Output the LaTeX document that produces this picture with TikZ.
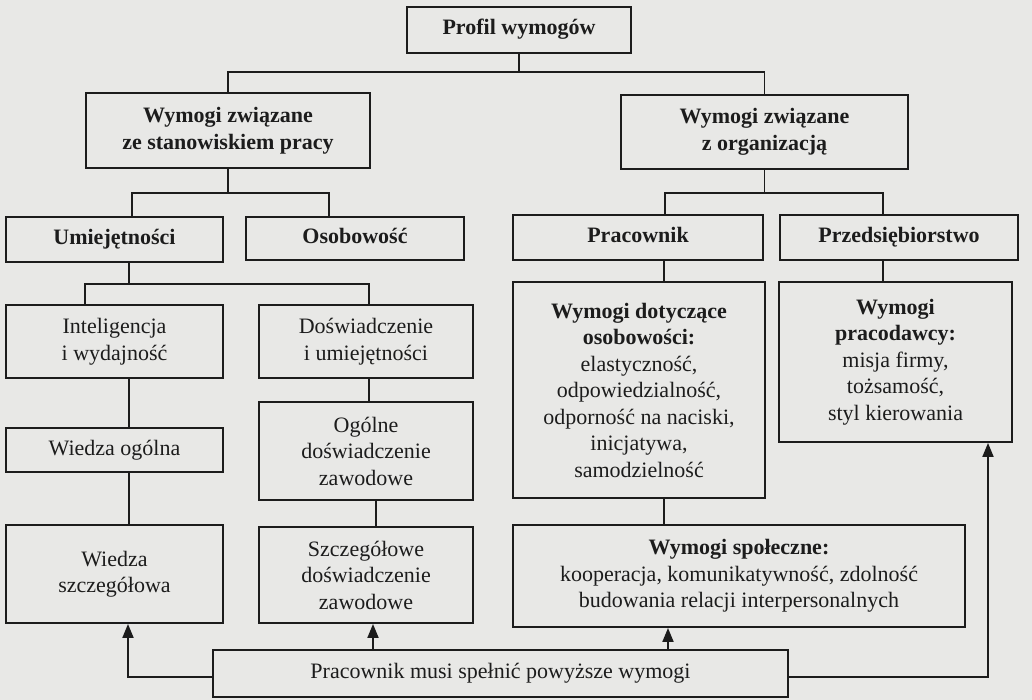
\documentclass[tikz,border=0pt]{standalone}
\usepackage{fontspec}
\setmainfont{Liberation Serif}
\usetikzlibrary{arrows.meta}
\definecolor{paper}{RGB}{232,232,230}
\definecolor{ink}{RGB}{28,28,28}

\begin{document}
\begin{tikzpicture}[x=1pt,y=-1pt,
  box/.style={draw=ink,line width=1.9pt,align=center,inner sep=0pt,text=ink,font=\fontsize{22}{26.5}\selectfont},
  head/.style={box,font=\fontsize{22}{26.5}\selectfont\bfseries},
  oneline/.style={text height=15pt,text depth=5pt},
  tie/.style={draw=ink,line width=1.9pt},
  flow/.style={tie,-{Triangle[length=14pt,width=11pt]}}
]
  \fill[paper] (0,0) rectangle (1032,700);
  \useasboundingbox (0,0) rectangle (1032,700);

  % top levels
  \node[head,oneline,minimum width=224pt,minimum height=46pt] (prof) at (519,30) {Profil wymogów};
  \node[head,minimum width=284pt,minimum height=75pt] (stan) at (228,130.5) {Wymogi związane\\ze stanowiskiem pracy};
  \node[head,minimum width=287pt,minimum height=74pt] (org) at (764.5,132) {Wymogi związane\\z organizacją};

  \node[head,oneline,minimum width=217pt,minimum height=45pt] (umie) at (114.5,239.5) {Umiejętności};
  \node[head,oneline,minimum width=218pt,minimum height=43pt] (osob) at (355,238.5) {Osobowość};
  \node[head,oneline,minimum width=250pt,minimum height=45pt] (prac) at (638,237.5) {Pracownik};
  \node[head,oneline,minimum width=238pt,minimum height=45pt] (przed) at (899,237.5) {Przedsiębiorstwo};

  % left branch
  \node[box,minimum width=217pt,minimum height=73pt] (intel) at (114.5,341.5) {Inteligencja\\i wydajność};
  \node[box,minimum width=214pt,minimum height=73pt] (dosw) at (366,341.5) {Doświadczenie\\i umiejętności};
  \node[box,oneline,minimum width=217pt,minimum height=44pt] (wog) at (114.5,450) {Wiedza ogólna};
  \node[box,minimum width=214pt,minimum height=98pt] (ogol) at (366,451) {Ogólne\\doświadczenie\\zawodowe};
  \node[box,minimum width=217pt,minimum height=98pt] (wsz) at (114.5,574) {Wiedza\\szczegółowa};
  \node[box,minimum width=214pt,minimum height=96pt] (szcz) at (366,575) {Szczegółowe\\doświadczenie\\zawodowe};

  % right branch
  \node[box,minimum width=252pt,minimum height=216pt] (wdot) at (639,390)
    {\textbf{Wymogi dotyczące}\\\textbf{osobowości:}\\elastyczność,\\odpowiedzialność,\\odporność na naciski,\\inicjatywa,\\samodzielność};
  \node[box,minimum width=233pt,minimum height=160pt] (wprac) at (895.5,362)
    {\textbf{Wymogi}\\\textbf{pracodawcy:}\\misja firmy,\\tożsamość,\\styl kierowania};
  \node[box,minimum width=452pt,minimum height=102pt] (wspol) at (739,576)
    {\textbf{Wymogi społeczne:}\\kooperacja, komunikatywność, zdolność\\budowania relacji interpersonalnych};

  \node[box,oneline,minimum width=575pt,minimum height=47pt] (must) at (500.5,673.5) {Pracownik musi spełnić powyższe wymogi};

  % tree lines
  \draw[tie] (prof.south) -- ++(0,18) coordinate (pj);
  \draw[tie] (stan.north) |- (pj) -| (org.north);
  \draw[tie] (stan.south) -- ++(0,24) coordinate (sj);
  \draw[tie] ([xshift=17.5pt]umie.north) |- (sj) -| ([xshift=-26pt]osob.north);
  \draw[tie] (org.south) -- ++(0,23) coordinate (oj);
  \draw[tie] ([xshift=27pt]prac.north) |- (oj) -| ([xshift=-16pt]przed.north);

  \draw[tie] ([xshift=14.5pt]umie.south) -- ++(0,21) coordinate (uj);
  \draw[tie] ([xshift=-29.5pt]intel.north) |- (uj) -| ([xshift=3pt]dosw.north);
  \draw[tie] ([xshift=14.5pt]intel.south) -- ([xshift=14.5pt]wog.north);
  \draw[tie] ([xshift=14.5pt]wog.south) -- ([xshift=14.5pt]wsz.north);
  \draw[tie] ([xshift=3pt]dosw.south) -- ([xshift=3pt]ogol.north);
  \draw[tie] ([xshift=10pt]ogol.south) -- ([xshift=10pt]szcz.north);

  \draw[tie] ([xshift=26pt]prac.south) -- ([xshift=26pt]prac.south |- wdot.north);
  \draw[tie] ([xshift=-16pt]przed.south) -- ([xshift=-16pt]przed.south |- wprac.north);
  \draw[tie] ([xshift=25pt]wdot.south) -- ([xshift=25pt]wdot.south |- wspol.north);

  % arrows from the bottom box
  \draw[flow] ([yshift=-3.5pt]must.west) -| ([xshift=13.5pt]wsz.south);
  \draw[flow] ([xshift=7pt]szcz.south |- must.north) -- ([xshift=7pt]szcz.south);
  \draw[flow] ([xshift=-71pt]wspol.south |- must.north) -- ([xshift=-71pt]wspol.south);
  \draw[flow] ([yshift=-3.5pt]must.east) -| ([xshift=92.5pt]wprac.south);
\end{tikzpicture}
\end{document}
